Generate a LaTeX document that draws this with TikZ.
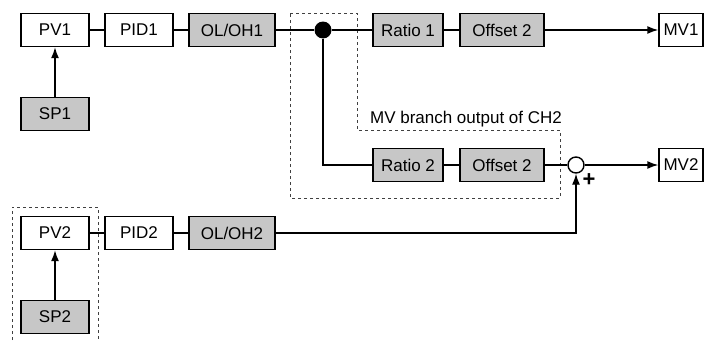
\documentclass[tikz,border=0pt]{standalone}
\usepackage{fontspec}
\setmainfont{Liberation Sans}
\usetikzlibrary{calc}
\usetikzlibrary{arrows.meta}

\begin{document}
\begin{tikzpicture}[x=1pt,y=-1pt,line width=1.4pt,
  font=\fontsize{17}{20}\selectfont,
  blk/.style={draw,fill=white,minimum height=33pt,inner sep=0pt},
  gblk/.style={blk,fill=black!22},
  arr/.style={-{Latex[length=11pt,width=8pt]}},
  frame/.style={draw=black!75,line width=0.8pt,dash pattern=on 3pt off 3pt}]
\useasboundingbox (0,0) rectangle (712,340);
\def\w{68pt}

\node[blk,minimum width=\w] (pv1) at (55,30) {PV1};
\node[blk,minimum width=\w] (pid1) at (139,30) {PID1};
\node[gblk,minimum width=86pt] (ol1) at (232,30) {OL/OH1};
\node[circle,fill=black,minimum size=17pt,inner sep=0pt] (dot) at (323,30) {};
\node[gblk,minimum width=70pt] (ra1) at (408,30) {Ratio 1};
\node[gblk,minimum width=84pt] (of1) at (502,30) {Offset 2};
\node[blk,minimum width=44pt] (mv1) at (681,30) {MV1};
\node[gblk,minimum width=\w] (sp1) at (55,114) {SP1};

\node[gblk,minimum width=70pt] (ra2) at (408,165) {Ratio 2};
\node[gblk,minimum width=84pt] (of2) at (502,165) {Offset 2};
\node[circle,draw,fill=white,minimum size=16pt,inner sep=0pt] (sum) at (576,165) {};
\node[blk,minimum width=44pt] (mv2) at (681,165) {MV2};
\node[font=\fontsize{22}{22}\bfseries\selectfont] (plus) at (589,180) {+};

\node[blk,minimum width=\w] (pv2) at (55,233) {PV2};
\node[blk,minimum width=\w] (pid2) at (139,233) {PID2};
\node[gblk,minimum width=86pt] (ol2) at (232,233) {OL/OH2};
\node[gblk,minimum width=\w] (sp2) at (55,317) {SP2};

% dashed frames
\draw[frame] (290,13) -- (357,13) -- (357,130) -- (560,130) -- (560,198)
  -- (290,198) -- cycle;
\draw[frame] (12,340) -- (12,207) -- (98,207) -- (98,340);
\node[anchor=base] (lbl) at (466,123) {MV branch output of CH2};

% channel 1
\draw (pv1) -- (pid1) -- (ol1) -- (dot) -- (ra1) -- (of1);
\draw[arr] (of1) -- (mv1);
\draw[arr] (sp1) -- (pv1);
\draw (dot) |- (ra2);
\draw (ra2) -- (of2) -- (sum);
\draw[arr] (sum) -- (mv2);

% channel 2
\draw (pv2) -- (pid2) -- (ol2);
\draw[arr] (sp2) -- (pv2);
\draw[arr] (ol2) -| (sum);
\end{tikzpicture}
\end{document}
